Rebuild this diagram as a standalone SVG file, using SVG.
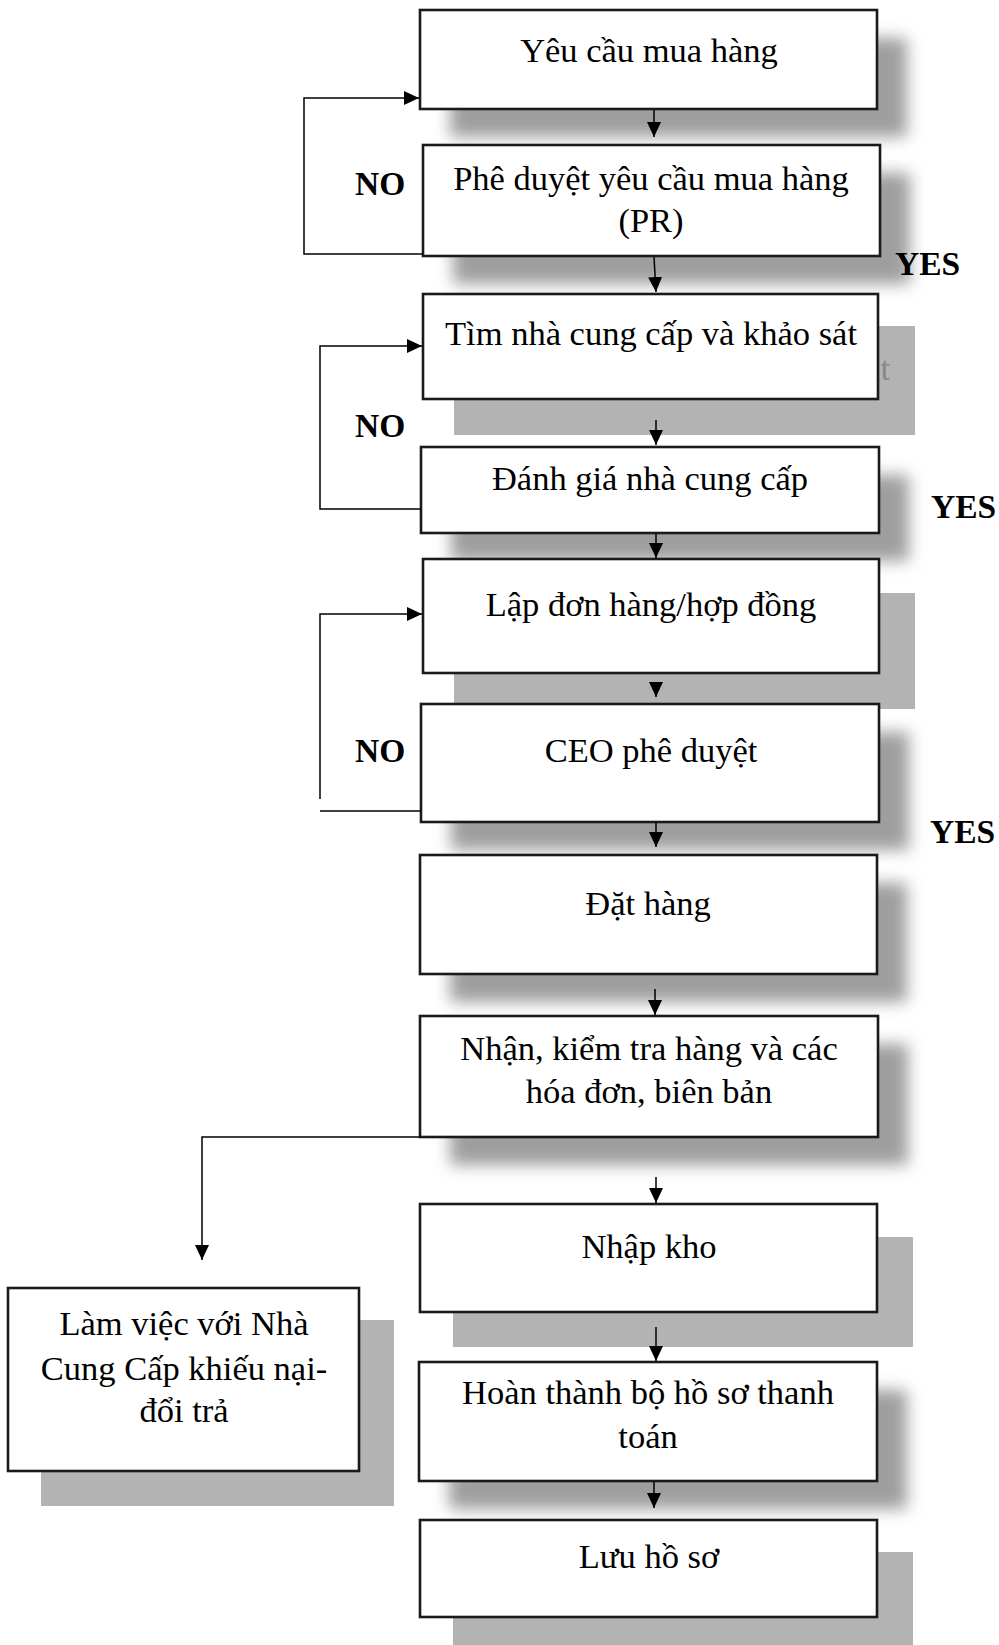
<svg xmlns="http://www.w3.org/2000/svg" width="999" height="1645" viewBox="0 0 999 1645">
  <style>
    .box { fill: #ffffff; stroke: #1a1a1a; stroke-width: 2.6; }
    .shade { fill: #b3b3b3; }
    .soft { fill: #9e9e9e; filter: url(#blur); }
    .txt { font-family: "Liberation Serif", "Times New Roman", serif; font-size: 34.5px; fill: #000; text-anchor: middle; }
    .ghost { font-family: "Liberation Serif", "Times New Roman", serif; font-size: 34.5px; fill: #888888; text-anchor: middle; }
    .lbl { font-family: "Liberation Serif", "Times New Roman", serif; font-size: 33.5px; font-weight: bold; fill: #000; }
    .link { fill: none; stroke: #000; stroke-width: 1.5; }
  </style>
  <defs>
    <filter id="blur" x="-20%" y="-40%" width="140%" height="180%">
      <feGaussianBlur stdDeviation="8"/>
    </filter>
    <marker id="head" markerUnits="userSpaceOnUse" markerWidth="15" markerHeight="14" refX="15" refY="7" orient="auto">
      <path d="M0,0 L15,7 L0,14 z" fill="#000"/>
    </marker>
  </defs>

  <rect width="999" height="1645" fill="#ffffff"/>

  <!-- process steps -->
  <g id="yeu-cau">
    <rect class="soft" x="450" y="38" width="457" height="99"/>
    <rect class="box" x="420" y="10" width="457" height="99"/>
    <text class="txt" x="649" y="62">Yêu cầu mua hàng</text>
  </g>

  <g id="phe-duyet-pr">
    <rect class="soft" x="453" y="173" width="457" height="111"/>
    <rect class="box" x="423" y="145" width="457" height="111"/>
    <text class="txt" x="651" y="190">Phê duyệt yêu cầu mua hàng</text>
    <text class="txt" x="651" y="232">(PR)</text>
  </g>

  <g id="tim-nha-cung-cap">
    <rect class="shade" x="454" y="326" width="461" height="109"/>
    <text class="ghost" x="684" y="380">Tìm nhà cung cấp và khảo sát</text>
    <rect class="box" x="423" y="294" width="455" height="105"/>
    <text class="txt" x="651" y="345">Tìm nhà cung cấp và khảo sát</text>
  </g>

  <g id="danh-gia">
    <rect class="soft" x="451" y="475" width="458" height="86"/>
    <rect class="box" x="421" y="447" width="458" height="86"/>
    <text class="txt" x="650" y="490">Đánh giá nhà cung cấp</text>
  </g>

  <g id="lap-don-hang">
    <rect class="shade" x="454" y="593" width="461" height="116"/>
    <rect class="box" x="423" y="559" width="456" height="114"/>
    <text class="txt" x="651" y="616">Lập đơn hàng/hợp đồng</text>
  </g>

  <g id="ceo-phe-duyet">
    <rect class="soft" x="451" y="732" width="458" height="118"/>
    <rect class="box" x="421" y="704" width="458" height="118"/>
    <text class="txt" x="651" y="762">CEO phê duyệt</text>
  </g>

  <g id="dat-hang">
    <rect class="soft" x="450" y="883" width="457" height="119"/>
    <rect class="box" x="420" y="855" width="457" height="119"/>
    <text class="txt" x="648" y="915">Đặt hàng</text>
  </g>

  <g id="nhan-kiem-tra">
    <rect class="soft" x="450" y="1044" width="458" height="121"/>
    <rect class="box" x="420" y="1016" width="458" height="121"/>
    <text class="txt" x="649" y="1060">Nhận, kiểm tra hàng và các</text>
    <text class="txt" x="649" y="1103">hóa đơn, biên bản</text>
  </g>

  <g id="nhap-kho">
    <rect class="shade" x="453" y="1237" width="460" height="110"/>
    <rect class="box" x="420" y="1204" width="457" height="108"/>
    <text class="txt" x="649" y="1258">Nhập kho</text>
  </g>

  <g id="hoan-thanh">
    <rect class="soft" x="449" y="1390" width="458" height="119"/>
    <rect class="box" x="419" y="1362" width="458" height="119"/>
    <text class="txt" x="648" y="1404">Hoàn thành bộ hồ sơ thanh</text>
    <text class="txt" x="648" y="1448">toán</text>
  </g>

  <g id="luu-ho-so">
    <rect class="shade" x="453" y="1552" width="460" height="93"/>
    <rect class="box" x="420" y="1520" width="457" height="97"/>
    <text class="txt" x="649" y="1568">Lưu hồ sơ</text>
  </g>

  <g id="khieu-nai">
    <rect class="shade" x="41" y="1320" width="353" height="186"/>
    <rect class="box" x="8" y="1288" width="351" height="183"/>
    <text class="txt" x="184" y="1335">Làm việc với Nhà</text>
    <text class="txt" x="184" y="1380">Cung Cấp khiếu nại-</text>
    <text class="txt" x="184" y="1422">đổi trả</text>
  </g>

  <!-- decision labels -->
  <g id="labels">
    <text class="lbl" x="355" y="195">NO</text>
    <text class="lbl" x="895" y="275">YES</text>
    <text class="lbl" x="355" y="437">NO</text>
    <text class="lbl" x="931" y="518">YES</text>
    <text class="lbl" x="355" y="762">NO</text>
    <text class="lbl" x="930" y="843">YES</text>
  </g>

  <!-- connectors -->
  <g id="connectors">
    <line class="link" x1="654" y1="110" x2="654" y2="137" marker-end="url(#head)"/>
    <line class="link" x1="654" y1="257" x2="656" y2="292" marker-end="url(#head)"/>
    <line class="link" x1="656" y1="420" x2="656" y2="445" marker-end="url(#head)"/>
    <line class="link" x1="656" y1="534" x2="656" y2="558" marker-end="url(#head)"/>
    <line class="link" x1="656" y1="683" x2="656" y2="697" marker-end="url(#head)"/>
    <line class="link" x1="656" y1="823" x2="656" y2="847" marker-end="url(#head)"/>
    <line class="link" x1="655" y1="989" x2="655" y2="1015" marker-end="url(#head)"/>
    <line class="link" x1="656" y1="1177" x2="656" y2="1203" marker-end="url(#head)"/>
    <line class="link" x1="656" y1="1327" x2="656" y2="1361" marker-end="url(#head)"/>
    <line class="link" x1="654" y1="1482" x2="654" y2="1508" marker-end="url(#head)"/>

    <!-- rejection loops -->
    <path class="link" d="M423,254 H304 V98 H419" marker-end="url(#head)"/>
    <path class="link" d="M421,509 H320 V346 H422" marker-end="url(#head)"/>
    <path class="link" d="M320,799 V614 H422" marker-end="url(#head)"/>
    <path class="link" d="M421,811 H320"/>

    <!-- complaint branch -->
    <path class="link" d="M420,1137 H202 V1260" marker-end="url(#head)"/>
  </g>
</svg>
